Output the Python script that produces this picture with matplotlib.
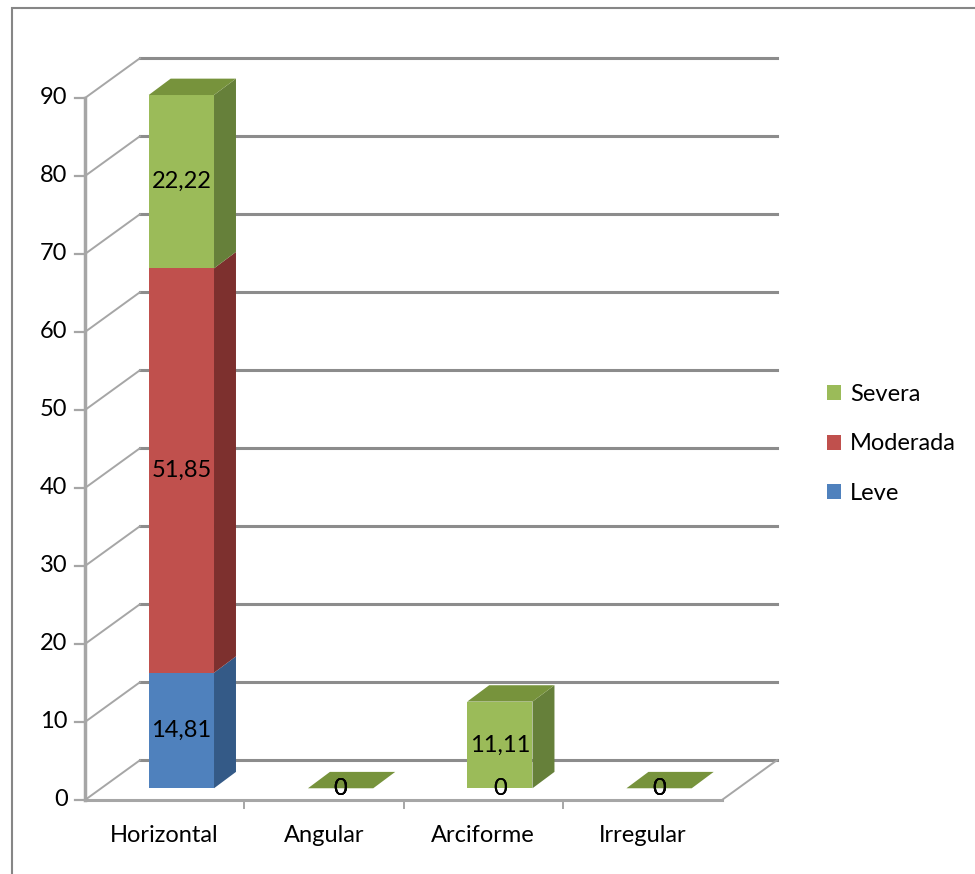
import matplotlib
matplotlib.use('Agg')
import matplotlib.pyplot as plt
from matplotlib.patches import Polygon, Rectangle, Patch

plt.rcParams['font.family'] = ['Lato', 'DejaVu Sans']

# datos
categorias = ['Horizontal', 'Angular', 'Arciforme', 'Irregular']
leve = [14.81, 0, 0, 0]
moderada = [51.85, 0, 0, 0]
severa = [22.22, 0, 11.11, 0]
y_ticks = [0, 10, 20, 30, 40, 50, 60, 70, 80, 90]

series = [('Leve', leve, '#4F81BD', '#345A87'),
          ('Moderada', moderada, '#C0504D', '#7D302E'),
          ('Severa', severa, '#9BBB59', '#66803A')]

# parametros de la perspectiva (unidades de datos)
wall_dx, wall_dy = 0.345, 5.1     # profundidad de la pared
off_x, off_y = 0.105, 1.5         # desplazamiento de la barra hacia atras
bar_w = 0.41
bar_dx, bar_dy = 0.138, 2.1       # profundidad de la barra
fs = 17

fig = plt.figure(figsize=(9.75, 8.74), dpi=100)
ax = fig.add_axes([0.0872, 0.0847, 0.6533, 0.8032])
ax.set_xlim(-0.5, 3.5)
ax.set_ylim(0, 90)
ax.axis('off')

grid_c = '#8C8C8C'
x0, x1 = -0.5, len(categorias) - 0.5

# pared del fondo y lateral
for v in y_ticks:
    ax.plot([x0 + wall_dx, x1 + wall_dx], [v + wall_dy, v + wall_dy],
            color=grid_c, lw=2.2, clip_on=False, zorder=1)
    ax.plot([x0, x0 + wall_dx], [v, v + wall_dy], color='#A6A6A6',
            lw=1.4, clip_on=False, zorder=1)
    ax.plot([x0 - 0.06, x0], [v, v], color='#A6A6A6', lw=1.6, clip_on=False, zorder=2)
    ax.text(x0 - 0.11, v, str(v), ha='right', va='center', fontsize=fs, color='black')

# suelo
ax.plot([x0, x1], [0, 0], color='#A6A6A6', lw=2.2, clip_on=False, zorder=2)
ax.plot([x1, x1 + wall_dx], [0, wall_dy], color='#A6A6A6', lw=1.4, clip_on=False, zorder=2)
ax.plot([x0, x0], [0, 90], color='#A6A6A6', lw=2.5, clip_on=False, zorder=2)
for i in range(1, len(categorias)):
    ax.plot([i - 0.5, i - 0.5], [0, -1.0], color='#A6A6A6', lw=1.4, clip_on=False, zorder=2)

# barras apiladas en 3D
bottoms = [0.0] * len(categorias)
for name, vals, c_front, c_side in series:
    xs = [i + off_x for i in range(len(categorias))]
    bars = ax.bar(xs, vals, width=bar_w, bottom=[b + off_y for b in bottoms],
                  color=c_front, zorder=5)
    for b in bars:
        b.set_clip_on(False)
    for i, v in enumerate(vals):
        xr = xs[i] + bar_w / 2
        yb = bottoms[i] + off_y
        yt = yb + v
        if v > 0:
            ax.add_patch(Polygon([(xr, yb), (xr + bar_dx, yb + bar_dy),
                                  (xr + bar_dx, yt + bar_dy), (xr, yt)],
                                 closed=True, facecolor=c_side, edgecolor='none',
                                 zorder=5, clip_on=False))
        ax.text(xs[i], yb + v / 2, f'{v:g}'.replace('.', ','), ha='center',
                va='center', fontsize=fs, zorder=8)
    bottoms = [b + v for b, v in zip(bottoms, vals)]

# cara superior de cada columna (serie superior)
for i in range(len(categorias)):
    xl = i + off_x - bar_w / 2
    xr = i + off_x + bar_w / 2
    yt = bottoms[i] + off_y
    ax.add_patch(Polygon([(xl, yt), (xr, yt), (xr + bar_dx, yt + bar_dy),
                          (xl + bar_dx, yt + bar_dy)], closed=True,
                         facecolor='#77933C', edgecolor='none', zorder=6, clip_on=False))

# etiquetas de categoria
for i, c in enumerate(categorias):
    ax.text(i, -4.6, c, ha='center', va='center', fontsize=fs)

# leyenda
handles = [Patch(facecolor=s[2]) for s in reversed(series)]
labels = [s[0] for s in reversed(series)]
fig.legend(handles, labels, loc='center left', bbox_to_anchor=(0.826, 0.492),
           frameon=False, fontsize=fs, handlelength=0.6, handleheight=0.6,
           handletextpad=0.4, labelspacing=1.2)

# borde del grafico
fig.patches.append(Rectangle((12 / 975, -0.2), 1.2, 1.2 - 8 / 874, fill=False,
                             edgecolor='#868686', lw=1.5, transform=fig.transFigure))

fig.savefig('out.png', dpi=100)
